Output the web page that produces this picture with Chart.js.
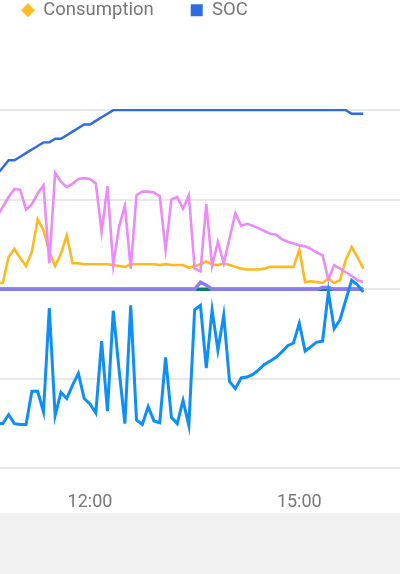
<!DOCTYPE html>
<html><head><meta charset="utf-8">
<script src="https://cdn.jsdelivr.net/npm/chart.js@4.4.1/dist/chart.umd.min.js"></script>
<style>
html,body{margin:0;padding:0;background:#fff;width:400px;height:574px;overflow:hidden;position:relative;}
#wrap{position:absolute;left:-15px;top:-36px;width:430px;height:572px;}
#footer{position:absolute;left:0;top:513px;width:400px;height:61px;background:#f2f2f2;}
</style></head><body>
<div id="wrap"><canvas id="c"></canvas></div>
<div id="footer"></div>
<script>
const times = ["10:40","10:45","10:50","10:55","11:00","11:05","11:10","11:15","11:20","11:25","11:30","11:35","11:40","11:45","11:50","11:55",
"12:00","12:05","12:10","12:15","12:20","12:25","12:30","12:35","12:40","12:45","12:50","12:55","13:00","13:05","13:10","13:15","13:20","13:25","13:30","13:35",
"13:40","13:45","13:50","13:55","14:00","14:05","14:10","14:15","14:20","14:25","14:30","14:35","14:40","14:45","14:50","14:55","15:00","15:05","15:10","15:15","15:20","15:25","15:30","15:35","15:40","15:45","15:50","15:55"];
const soc = [82,84,86,86,87,88,89,90,91,91,92,92,93,94,95,96,
96,97,98,99,100,100,100,100,100,100,100,100,100,100,100,100,100,100,100,100,
100,100,100,100,100,100,100,100,100,100,100,100,100,100,100,100,100,100,100,100,100,100,100,100,100,99,99,99];
const consumption = [0.07,0.07,0.36,0.45,0.35,0.26,0.42,0.78,0.66,0.42,0.26,0.40,0.60,0.29,0.29,0.28,
0.28,0.28,0.28,0.28,0.27,0.26,0.25,0.28,0.28,0.28,0.28,0.28,0.27,0.28,0.27,0.27,0.27,0.24,0.26,0.28,
0.31,0.28,0.27,0.29,0.27,0.25,0.23,0.22,0.22,0.22,0.23,0.25,0.25,0.25,0.25,0.25,0.44,0.08,0.09,0.08,0.07,0.12,0.07,0.10,0.33,0.47,0.36,0.23];
const solar = [0.81,0.92,1.03,1.12,1.11,0.89,0.95,1.07,1.16,0.29,1.30,1.20,1.14,1.18,1.23,1.24,
1.23,1.18,0.64,1.15,0.27,0.70,0.93,0.23,1.05,1.09,1.09,1.08,1.04,0.44,1.00,1.03,0.90,1.05,0.23,0.20,
0.95,0.26,0.53,0.29,0.57,0.85,0.71,0.73,0.71,0.68,0.65,0.62,0.61,0.56,0.53,0.51,0.49,0.48,0.45,0.41,0.38,0.11,0.27,0.23,0.19,0.15,0.10,0.08];
const battery = [-1.50,-1.50,-1.40,-1.50,-1.51,-1.51,-1.14,-1.14,-1.37,-0.21,-1.41,-1.15,-1.22,-1.07,-0.94,-1.22,
-1.28,-1.38,-0.58,-1.36,-0.24,-0.90,-1.50,-0.18,-1.46,-1.51,-1.31,-1.47,-1.49,-0.76,-1.43,-1.50,-1.24,-1.52,-0.23,-0.18,
-0.88,-0.23,-0.68,-0.29,-1.03,-1.11,-0.99,-0.98,-0.95,-0.90,-0.84,-0.80,-0.76,-0.70,-0.63,-0.60,-0.38,-0.69,-0.64,-0.59,-0.58,-0.03,-0.44,-0.34,-0.12,0.10,0.05,-0.03];
const gridImport = [0,0,0,0,0,0,0,0,0,0,0,0,0,0,0,0,
0,0,0,0,0,0,0,0,0,0,0,0,0,0,0,0,0,0,0,0.08,
0.045,0,0,0,0,0,0,0,0,0,0,0,0,0,0,0,0,0,0,0,0.02,0.02,0,0,0,0,0,0];
const gridExport = [0,0,0,0,0,0,0,0,0,0,0,0,0,0,0,0,
0,0,0,0,0,0,0,0,0,0,0,0,0,0,0,0,0,0,0,0,
0,0,0,0,0,0,0,0,0,0,0,0,0,0,0,0,0,0,0,0,0,0,0,0,0,0,0,0];
const xTickLabels = ["12:00","15:00"];
const yTicks = [-2,-1,0,1,2];
const legendNames = ["Consumption","SOC"];

const toMin = s => { const p = s.split(":").map(Number); return p[0]*60 + p[1]; };
const fmt = v => { const h = Math.floor(v/60), m = Math.round(v%60); return h + ":" + String(m).padStart(2,"0"); };
const pts = arr => times.map((t,i) => ({x: toMin(t), y: arr[i]}));

const Y_MAX = 2.9;
const X_MIN = 629.7, X_MAX = 999.5;

const diamond = document.createElement("canvas");
diamond.width = 14; diamond.height = 14;
(function(){ const g = diamond.getContext("2d"); g.fillStyle = "#fdbb24"; g.beginPath(); g.moveTo(7,0); g.lineTo(14,7); g.lineTo(7,14); g.lineTo(0,7); g.closePath(); g.fill(); })();

Chart.defaults.font.family = "Roboto";

new Chart(document.getElementById("c"), {
  type: "line",
  data: {
    datasets: [
      {label:"SOC", data: pts(soc), yAxisID:"y1", borderColor:"#2e6bdc", backgroundColor:"#2e6bdc", borderWidth:2.4, pointStyle:"rect"},
      {label:"Battery", data: pts(battery), yAxisID:"y", borderColor:"#0e8ff8", backgroundColor:"#0e8ff8", borderWidth:3},
      {label:"Grid", data: pts(gridImport), yAxisID:"y", borderColor:"#8b7cf0", backgroundColor:"#8b7cf0", borderWidth:3.4},
      {label:"Grid export", data: pts(gridExport), yAxisID:"y", borderColor:"#0b7a73", backgroundColor:"#0b7a73", borderWidth:3.4},
      {label:"Solar", data: pts(solar), yAxisID:"y", borderColor:"#eb8af8", backgroundColor:"#eb8af8", borderWidth:2.6},
      {label:"Consumption", data: pts(consumption), yAxisID:"y", borderColor:"#ffb91f", backgroundColor:"#ffb91f", borderWidth:2.6, pointStyle: diamond}
    ]
  },
  options: {
    responsive: true, maintainAspectRatio: false, animation: false, devicePixelRatio: 1,
    layout: {padding: 0},
    elements: {point: {radius: 0, hoverRadius: 0}, line: {tension: 0}},
    plugins: {
      tooltip: {enabled: false},
      legend: {
        display: true, position: "top", align: "start",
        labels: {
          usePointStyle: true, boxWidth: 12, boxHeight: 12, padding: 37,
          color: "#777777", font: {family: "Roboto", size: 18.5},
          filter: item => legendNames.includes(item.text),
          sort: (a, b) => legendNames.indexOf(a.text) - legendNames.indexOf(b.text),
          generateLabels: chart => Chart.defaults.plugins.legend.labels.generateLabels(chart).map(l => Object.assign(l, {lineWidth: 0}))
        }
      }
    },
    scales: {
      x: {
        type: "linear", min: X_MIN, max: X_MAX,
        grid: {display: false, drawTicks: false}, border: {display: false},
        afterBuildTicks: s => { s.ticks = xTickLabels.map(t => ({value: toMin(t)})); },
        ticks: {callback: v => fmt(v), color: "#777777", font: {family: "Roboto", size: 18}, padding: 23, maxRotation: 0, autoSkip: false}
      },
      y: {
        type: "linear", position: "left", min: yTicks[0], max: Y_MAX,
        afterBuildTicks: s => { s.ticks = yTicks.map(v => ({value: v})); },
        grid: {color: "#e8e8e8", lineWidth: 2, drawTicks: false}, border: {display: false},
        ticks: {display: false}
      },
      y1: {
        type: "linear", position: "right", display: false, min: 0, max: (Y_MAX - yTicks[0]) * 25
      }
    }
  }
});
</script>
</body></html>
